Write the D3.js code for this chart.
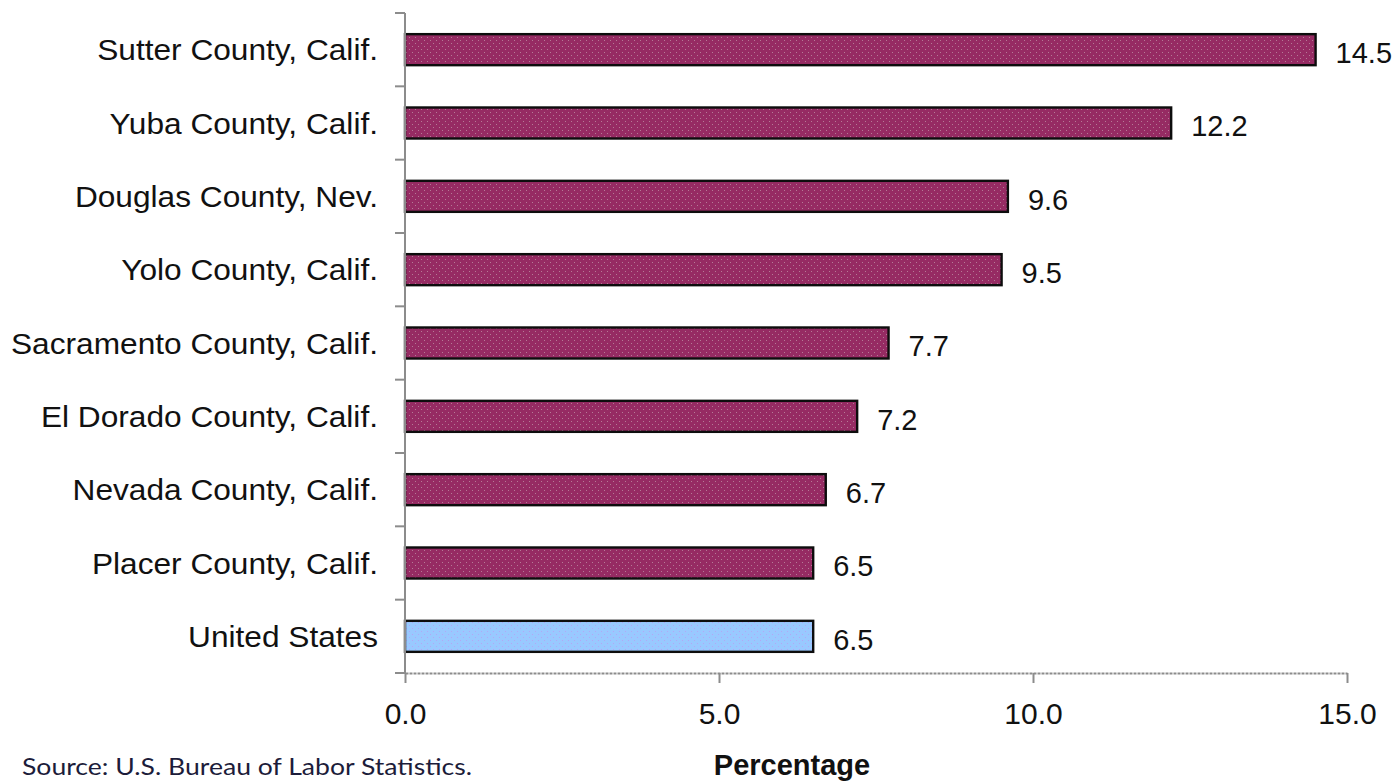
<!DOCTYPE html>
<html>
<head>
<meta charset="utf-8">
<script src="https://cdn.jsdelivr.net/npm/d3@7/dist/d3.min.js"></script>
<style>
  body { margin: 0; background: #fff; }
  svg { display: block; }
  text { font-family: Arial, "Liberation Sans", sans-serif; }
</style>
</head>
<body>
<svg id="chart" width="1396" height="782"></svg>
<script>
// data, top to bottom as in the chart
var counties = ['Sutter County, Calif.', 'Yuba County, Calif.', 'Douglas County, Nev.',
  'Yolo County, Calif.', 'Sacramento County, Calif.', 'El Dorado County, Calif.',
  'Nevada County, Calif.', 'Placer County, Calif.', 'United States'];
var rates = [14.5, 12.2, 9.6, 9.5, 7.7, 7.2, 6.7, 6.5, 6.5];
var xTicks = [0, 5, 10, 15];

var svg = d3.select('#chart');

var x = d3.scaleLinear().domain([0, 15]).range([405, 1347]);
var y = d3.scaleBand().domain(counties).range([13, 673])
  .paddingInner(0.577).paddingOuter(0.577 / 2);

var rows = counties.map(function(c, i){ return {name: c, value: rates[i], us: c === 'United States'}; });

// dotted fills like the excel pattern
var defs = svg.append('defs');
function dotPattern(id, base, dot){
  var p = defs.append('pattern').attr('id', id)
    .attr('patternUnits', 'userSpaceOnUse').attr('width', 6).attr('height', 6);
  p.append('rect').attr('width', 6).attr('height', 6).attr('fill', base);
  p.append('rect').attr('x', 1).attr('y', 1).attr('width', 1).attr('height', 1).attr('fill', dot);
  p.append('rect').attr('x', 4).attr('y', 4).attr('width', 1).attr('height', 1).attr('fill', dot);
}
dotPattern('dotsPurple', '#962b63', '#b57a96');
dotPattern('dotsBlue', '#99c9ff', '#b3a6f5');

// bars
svg.append('g').selectAll('rect')
  .data(rows)
  .enter()
  .append('rect')
  .attr('x', x(0))
  .attr('y', function(d){ return y(d.name); })
  .attr('width', function(d){ return x(d.value) - x(0); })
  .attr('height', y.bandwidth())
  .attr('fill', function(d){ return d.us ? 'url(#dotsBlue)' : 'url(#dotsPurple)'; })
  .attr('stroke', '#0d0d0d')
  .attr('stroke-width', 2.4);

// x axis
var xAxis = svg.append('g')
  .attr('transform', 'translate(0,' + y.range()[1] + ')')
  .call(d3.axisBottom(x).tickValues(xTicks).tickFormat(d3.format('.1f'))
    .tickSize(10).tickSizeOuter(0).tickPadding(20));
xAxis.select('.domain').attr('stroke', '#8c8c8c').attr('stroke-width', 2)
  .attr('stroke-dasharray', '3,1');
xAxis.selectAll('.tick line').attr('stroke', '#8c8c8c').attr('stroke-width', 2);
xAxis.selectAll('.tick text').attr('fill', '#111').style('font-size', '30px')
  .style('font-family', 'Arial, "Liberation Sans", sans-serif');

// y axis line with ticks at the band edges
var edges = d3.range(counties.length + 1).map(function(i){ return y.range()[0] + i * y.step(); });
svg.append('line')
  .attr('x1', x(0)).attr('x2', x(0))
  .attr('y1', y.range()[0]).attr('y2', y.range()[1])
  .attr('stroke', '#8c8c8c').attr('stroke-width', 2);
svg.append('g').selectAll('line')
  .data(edges)
  .enter()
  .append('line')
  .attr('x1', x(0) - 10).attr('x2', x(0))
  .attr('y1', function(d){ return d; }).attr('y2', function(d){ return d; })
  .attr('stroke', '#8c8c8c').attr('stroke-width', 2);

// category labels (a little wider than plain arial in the source image)
svg.append('g').selectAll('text')
  .data(rows)
  .enter()
  .append('text')
  .attr('transform', function(d){
    return 'translate(' + (x(0) - 27) + ',' + (y(d.name) + y.bandwidth() / 2) + ') scale(1.055,1)';
  })
  .attr('dy', '0.36em')
  .attr('text-anchor', 'end')
  .attr('fill', '#111')
  .style('font-size', '30px')
  .text(function(d){ return d.name; });

// value labels
svg.append('g').selectAll('text')
  .data(rows)
  .enter()
  .append('text')
  .attr('x', function(d){ return x(d.value) + 20; })
  .attr('y', function(d){ return y(d.name) + y.bandwidth() / 2 + 3; })
  .attr('dy', '0.36em')
  .attr('fill', '#111')
  .style('font-size', '29px')
  .text(function(d){ return d3.format('.1f')(d.value); });

// axis title
svg.append('text')
  .attr('x', 792).attr('y', 775)
  .attr('text-anchor', 'middle')
  .attr('fill', '#111')
  .style('font-size', '29px').style('font-weight', 'bold')
  .text('Percentage');

// source note
svg.append('text')
  .attr('x', 22).attr('y', 775)
  .attr('fill', '#1c1c3a')
  .style('font-family', 'Lato, "Open Sans", sans-serif')
  .style('font-size', '24px')
  .attr('textLength', 450)
  .attr('lengthAdjust', 'spacingAndGlyphs')
  .text('Source: U.S. Bureau of Labor Statistics.');
</script>
</body>
</html>
